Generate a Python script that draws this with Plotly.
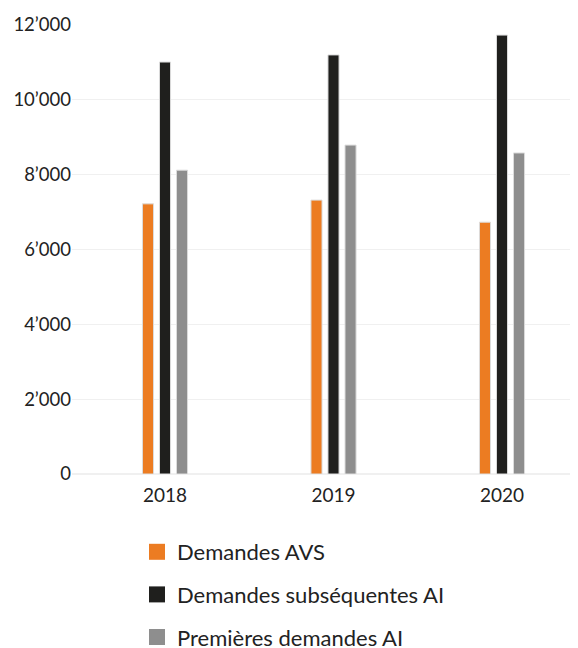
import plotly.graph_objects as go

years = ["2018", "2019", "2020"]
avs = [7220, 7320, 6730]
ai_subsequent = [11010, 11200, 11730]
ai_first = [8120, 8790, 8580]

series_names = ["Demandes AVS", "Demandes subséquentes AI", "Premières demandes AI"]
series_colors = ["#ec7c22", "#1f1f1d", "#8e8e8e"]

fig = go.Figure()
for name, values, color in zip(series_names, [avs, ai_subsequent, ai_first], series_colors):
    fig.add_trace(go.Bar(
        x=years, y=values, name=name,
        marker=dict(color=color, line=dict(color="#dcdcdc", width=1)),
        showlegend=False,
        hovertemplate="%{x}: %{y}<extra>" + name + "</extra>",
    ))
    # legend proxy with a larger square swatch
    fig.add_trace(go.Scatter(
        x=[None], y=[None], mode="markers", name=name, legendgroup=name,
        marker=dict(symbol="square", size=16, color=color),
    ))

fig.update_layout(
    width=578, height=648,
    paper_bgcolor="white", plot_bgcolor="white",
    font=dict(family="Lato, sans-serif", color="#222222", size=18),
    margin=dict(l=64, r=8, t=17, b=182, autoexpand=False),
    barmode="group", bargap=0.697, bargroupgap=0.35,
    separators=".’",
    xaxis=dict(range=[-0.552, 2.451], showgrid=False, showline=False, ticks="",
               tickfont=dict(size=19), ticklabelstandoff=8),
    yaxis=dict(range=[0, 12000], dtick=2000, tickformat=",d",
               gridcolor="#f0f0f0", zerolinecolor="#f0f0f0", showline=False,
               ticks="", tickfont=dict(size=18.5)),
    legend=dict(
        xref="container", yref="container", x=129 / 578, y=1 - 523 / 648,
        xanchor="left", yanchor="top", orientation="v",
        font=dict(size=22, color="#222222"), tracegroupgap=11,
    ),
)

fig.write_html("out.html")
